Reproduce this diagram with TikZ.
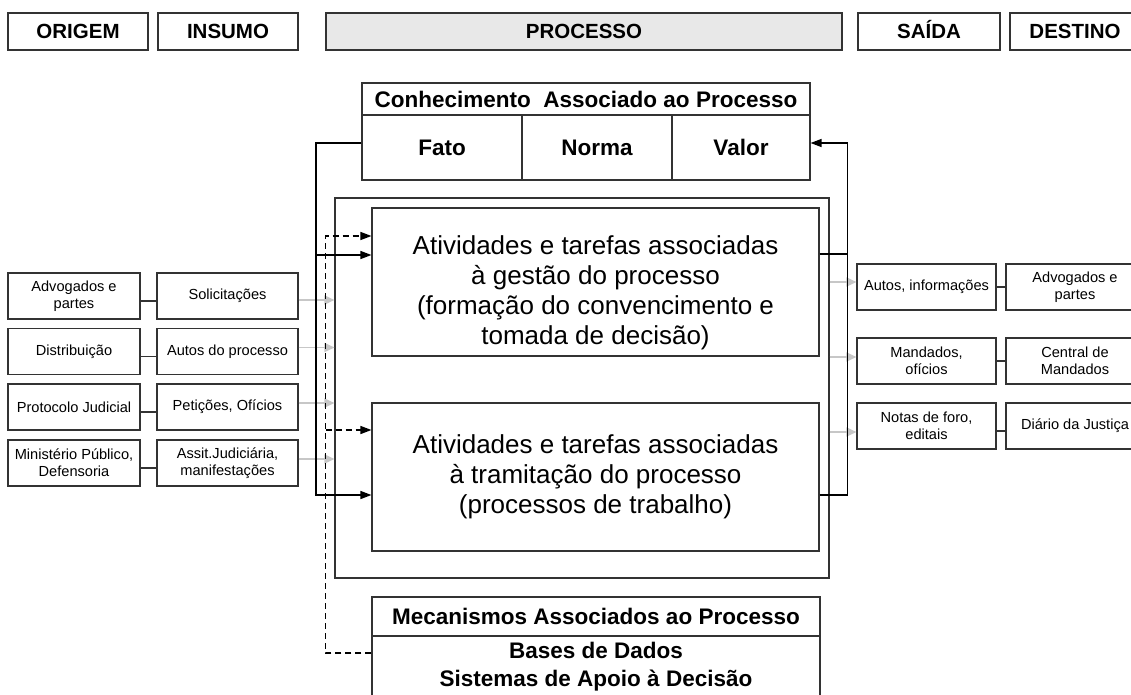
\documentclass[tikz,border=0pt]{standalone}
\usepackage{fontspec}
\setmainfont{Liberation Sans}
\usetikzlibrary{arrows.meta}
\begin{document}
\begin{tikzpicture}[x=1pt,y=-1pt,
  plain/.style={draw=black!80, line width=1.1pt, inner sep=0pt},
  box/.style={plain, align=center},
  hdr/.style={plain, minimum height=37pt, text height=16pt, text depth=2pt, font=\bfseries\fontsize{20.5}{24}\selectfont},
  kbox/.style={box, font=\bfseries\fontsize{22.5}{28}\selectfont},
  sbox/.style={box, minimum height=46pt, font=\fontsize{14.6}{17}\selectfont},
  abox/.style={box, minimum width=447pt, minimum height=148pt},
  atext/.style={align=center, inner sep=0pt, font=\fontsize{26}{30}\selectfont},
  conn/.style={draw=black, line width=1.3pt},
  arr/.style={conn, -{Triangle[length=11pt,width=8pt]}},
  darr/.style={arr, dash pattern=on 6pt off 4pt},
  garr/.style={draw=black!22, line width=1.6pt, -{Triangle[length=10pt,width=9pt]}},
  link/.style={draw=black!80, line width=1.1pt}
]
\useasboundingbox (0,0) rectangle (1131,695);
\clip (0,0) rectangle (1131,695);

% header row
\node[hdr, minimum width=140pt] (hOrig) at (78,31.5) {ORIGEM};
\node[hdr, minimum width=140pt] (hIns) at (228,31.5) {INSUMO};
\node[hdr, minimum width=516pt, fill=black!9] (hProc) at (584,31.5) {PROCESSO};
\node[hdr, minimum width=142pt] (hSai) at (929,31.5) {SAÍDA};
\node[hdr, minimum width=130pt] (hDest) at (1075,31.5) {DESTINO};

% knowledge box
\node[kbox, minimum width=448pt, minimum height=32pt] (conh) at (586,99) {Conhecimento~ Associado ao Processo};
\node[kbox, minimum width=160pt, minimum height=65pt] (fato) at (442,147.5) {Fato};
\node[kbox, minimum width=150pt, minimum height=65pt] (norma) at (597,147.5) {Norma};
\node[kbox, minimum width=138pt, minimum height=65pt] (valor) at (741,147.5) {Valor};

% process boxes
\node[box, minimum width=494pt, minimum height=380pt] (outer) at (582,388) {};
\node[abox, label={[atext, yshift=-11pt]center:{Atividades e tarefas associadas\\ à gestão do processo\\ (formação do convencimento e\\ tomada de decisão)}}] (gest) at (595.5,282) {};
\node[abox, atext] (tram) at (595.5,477) {Atividades e tarefas associadas\\ à tramitação do processo\\ (processos de trabalho)};

% mechanisms
\node[kbox, minimum width=448pt, minimum height=39pt] (mecT) at (596,616.5) {Mecanismos Associados ao Processo};
\node[kbox, minimum width=448pt, minimum height=62pt] (mecB) at (596,667) {Bases de Dados\\Sistemas de Apoio à Decisão};

% left columns
\node[sbox, minimum width=132pt] (o1) at (74,296) {Advogados e\\partes};
\node[sbox, minimum width=141pt] (i1) at (227.5,296) {Solicitações};
\node[sbox, minimum width=132pt] (o2) at (74,351.5) {Distribuição};
\node[sbox, minimum width=141pt] (i2) at (227.5,351.5) {Autos do processo};
\node[sbox, minimum width=132pt] (o3) at (74,407) {Protocolo Judicial};
\node[sbox, minimum width=141pt] (i3) at (227.5,407) {Petições, Ofícios};
\node[sbox, minimum width=132pt] (o4) at (74,463) {Ministério Público,\\Defensoria};
\node[sbox, minimum width=141pt] (i4) at (227.5,463) {Assit.Judiciária,\\manifestações};

\foreach \k in {1,2,3,4}{
  \draw[link] ([yshift=-5pt]o\k.east) -- ([yshift=-5pt]i\k.west);
}
\draw[garr] ([yshift=-4pt]i1.east) -- ([yshift=-4pt]i1.east -| outer.west);
\draw[garr] ([yshift=4pt]i2.east) -- ([yshift=4pt]i2.east -| outer.west);
\draw[garr] ([yshift=4pt]i3.east) -- ([yshift=4pt]i3.east -| outer.west);
\draw[garr] ([yshift=4pt]i4.east) -- ([yshift=4pt]i4.east -| outer.west);

% right columns
\node[sbox, minimum width=139pt] (s1) at (926.5,287) {Autos, informações};
\node[sbox, minimum width=138pt] (d1) at (1075,287) {Advogados e\\partes};
\node[sbox, minimum width=139pt] (s2) at (926.5,361) {Mandados,\\ofícios};
\node[sbox, minimum width=138pt] (d2) at (1075,361) {Central de\\Mandados};
\node[sbox, minimum width=139pt] (s3) at (926.5,426) {Notas de foro,\\editais};
\node[sbox, minimum width=138pt] (d3) at (1075,426) {Diário da Justiça};

\draw[link] (s1.east) -- (d1.west);
\draw[link] (s2.east) -- (d2.west);
\draw[link] ([yshift=-5pt]s3.east) -- ([yshift=-5pt]d3.west);
\draw[garr] ([yshift=5pt]s1.west -| outer.east) -- ([yshift=5pt]s1.west);
\draw[garr] ([yshift=4pt]s2.west -| outer.east) -- ([yshift=4pt]s2.west);
\draw[garr] ([yshift=-6pt]s3.west -| outer.east) -- ([yshift=-6pt]s3.west);

% feedback connectors
\coordinate (lm) at (316,255);
\coordinate (lb) at (316,495);
\coordinate (rm) at (847.5,254);
\coordinate (rb) at (847.5,495);
\draw[arr] ([yshift=4.5pt]fato.west) -| (lb) -- (lb -| tram.west);
\draw[arr] (lm) -- (lm -| gest.west);
\draw[arr] (rb -| tram.east) -- (rb) |- ([yshift=4.5pt]valor.east);
\draw[conn] (rm -| gest.east) -- (rm);

% dashed mechanism connectors
\coordinate (dt) at (325.5,236);
\coordinate (dm) at (325.5,430);
\coordinate (db) at (325.5,653);
\draw[darr] (db -| mecB.west) -- (db) -- (dt) -- (dt -| gest.west);
\draw[darr] (dm) -- (dm -| tram.west);
\end{tikzpicture}
\end{document}
